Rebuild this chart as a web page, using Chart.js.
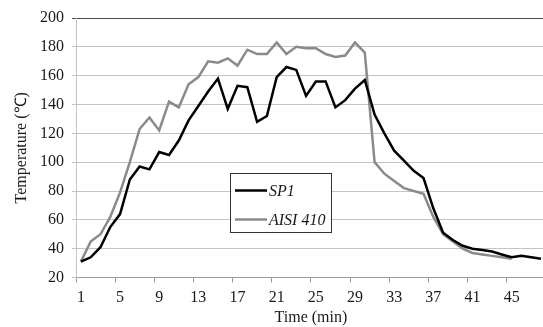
<!DOCTYPE html>
<html>
<head>
<meta charset="utf-8">
<script src="https://cdn.jsdelivr.net/npm/chart.js"></script>
<style>
  html, body { margin: 0; padding: 0; background: #fff; overflow: hidden; }
  #wrap { position: relative; width: 547px; height: 327px; }
</style>
</head>
<body>
<div id="wrap"><canvas id="tempChart" width="547" height="327"></canvas></div>
<script>
// --- Temperature vs time data ---
const minutes = [
  1, 2, 3, 4, 5, 6, 7, 8, 9, 10, 11, 12, 13, 14, 15, 16,
  17, 18, 19, 20, 21, 22, 23, 24, 25, 26, 27, 28, 29, 30, 31, 32,
  33, 34, 35, 36, 37, 38, 39, 40, 41, 42, 43, 44, 45, 46, 47, 48
];
const sp1Temps = [
  31, 34, 41, 55, 64, 88, 97, 95, 107, 105, 115, 129, 139, 149, 158, 137,
  153, 152, 128, 132, 159, 166, 164, 146, 156, 156, 138, 143, 151, 157, 133, 120,
  108, 101, 94, 89, 68, 51, 46, 42, 40, 39, 38, 36, 34, 35, 34, 33
];
const aisiTemps = [
  31, 45, 50, 62, 79, 100, 123, 131, 122, 142, 138, 154, 159, 170, 169, 172,
  167, 178, 175, 175, 183, 175, 180, 179, 179, 175, 173, 174, 183, 176, 100, 92,
  87, 82, 80, 78, 62, 50, 45, 40, 37, 36, 35, 34, 33
];
const seriesNames = ["SP1", "AISI 410"];
const yMin = 20, yMax = 200, yStep = 20;
const tickEvery = 4;

const serif = "'Liberation Serif', 'Times New Roman', serif";
const textColor = "#1a1a1a";
const fontSize = 16;

// legend box drawn inside the plot, Excel style
const boxLegend = {
  id: "boxLegend",
  afterDraw(chart) {
    const ctx = chart.ctx;
    const x = 230, y = 173, w = 101, h = 59;
    ctx.save();
    ctx.fillStyle = "#fff";
    ctx.fillRect(x, y, w, h);
    ctx.strokeStyle = "#333";
    ctx.lineWidth = 1;
    ctx.strokeRect(x + 0.5, y + 0.5, w, h);
    chart.data.datasets.forEach((ds, i) => {
      const ly = 190.5 + i * 29;
      ctx.strokeStyle = ds.borderColor;
      ctx.lineWidth = ds.borderWidth;
      ctx.beginPath();
      ctx.moveTo(235, ly);
      ctx.lineTo(267, ly);
      ctx.stroke();
      ctx.fillStyle = textColor;
      ctx.font = "italic " + fontSize + "px " + serif;
      ctx.textBaseline = "middle";
      ctx.fillText(ds.label, 269, ly + 1);
    });
    ctx.restore();
  },
};

new Chart(document.getElementById("tempChart"), {
  type: "line",
  data: {
    labels: minutes,
    datasets: [
      {
        label: seriesNames[0],
        data: sp1Temps,
        borderColor: "#000000",
        borderWidth: 2.5,
        pointRadius: 0,
        tension: 0,
        fill: false,
      },
      {
        label: seriesNames[1],
        data: aisiTemps,
        borderColor: "#8a8a8a",
        borderWidth: 2.5,
        pointRadius: 0,
        tension: 0,
        fill: false,
      },
    ],
  },
  options: {
    responsive: false,
    animation: false,
    layout: { padding: { top: 18, right: 0, left: 0, bottom: 0 } },
    plugins: {
      legend: { display: false },
      tooltip: { enabled: false },
    },
    scales: {
      x: {
        type: "category",
        offset: true,
        afterFit: (s) => { s.height = 49.5; },
        grid: {
          offset: true,
          drawOnChartArea: false,
          drawTicks: true,
          tickLength: 5,
          color: (c) => (c.index % tickEvery === 0 ? "#9a9a9a" : "rgba(0,0,0,0)"),
        },
        border: { display: true, color: "#9a9a9a", width: 1 },
        ticks: {
          autoSkip: false,
          maxRotation: 0,
          padding: 6,
          color: textColor,
          font: { family: serif, size: fontSize },
          callback: function (v, i) {
            return i % tickEvery === 0 ? this.getLabelForValue(v) : "";
          },
        },
        title: {
          display: true,
          text: "Time (min)",
          color: textColor,
          font: { family: serif, size: fontSize },
          padding: { top: 0, bottom: 0 },
        },
      },
      y: {
        min: yMin,
        max: yMax,
        afterFit: (s) => { s.width = 76; },
        grid: {
          tickLength: 4,
          color: (c) => (c.tick && c.tick.value === yMax ? "#4a4a4a" : "#c4c4c4"),
        },
        border: { display: true, color: "#c4c4c4", width: 1 },
        ticks: {
          stepSize: yStep,
          padding: 8,
          color: textColor,
          font: { family: serif, size: fontSize },
        },
        title: {
          display: true,
          text: "Temperature (℃)",
          color: textColor,
          font: { family: serif, size: fontSize },
          padding: { top: 12, bottom: 0 },
        },
      },
    },
  },
  plugins: [boxLegend],
});
</script>
</body>
</html>
